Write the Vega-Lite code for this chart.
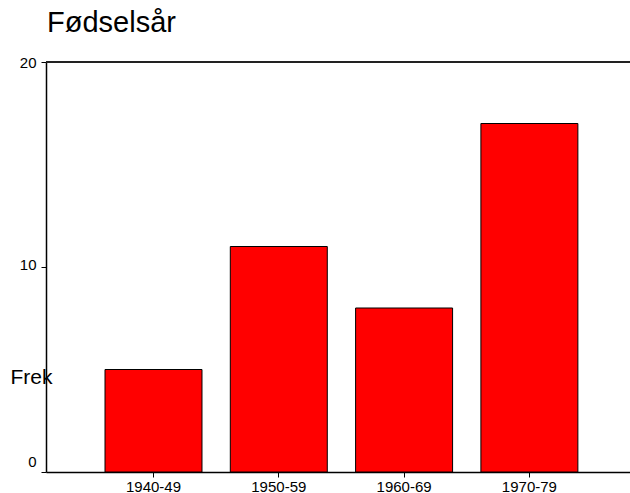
{
  "$schema": "https://vega.github.io/schema/vega-lite/v6.json",
  "autosize": "none",
  "width": 584,
  "height": 410,
  "padding": {"left": 46, "top": 62, "right": 0, "bottom": 21},
  "background": "white",
  "config": {
    "view": {"stroke": null},
    "font": "Liberation Sans"
  },
  "title": {
    "text": "Fødselsår",
    "anchor": "start",
    "frame": "group",
    "fontSize": 29,
    "fontWeight": "normal",
    "color": "black",
    "baseline": "alphabetic",
    "offset": -6,
    "dx": 1
  },
  "data": {
    "values": [
      {"period": "1940-49", "freq": 5},
      {"period": "1950-59", "freq": 11},
      {"period": "1960-69", "freq": 8},
      {"period": "1970-79", "freq": 17}
    ]
  },
  "layer": [
    {
      "mark": {"type": "bar", "fill": "#ff0000", "stroke": "black", "strokeWidth": 1},
      "encoding": {
        "x": {
          "field": "period",
          "type": "nominal",
          "sort": null,
          "scale": {"paddingInner": 0.226, "paddingOuter": 0.4435, "align": 0.531},
          "axis": {
            "title": null,
            "labelAngle": 0,
            "labelFontSize": 15,
            "labelColor": "black",
            "labelPadding": 2,
            "tickSize": 5,
            "tickColor": "black",
            "domainColor": "black",
            "domainWidth": 1.5,
            "tickWidth": 1
          }
        },
        "y": {
          "field": "freq",
          "type": "quantitative",
          "scale": {"domain": [0, 20], "nice": false},
          "axis": {
            "values": [0, 10, 20],
            "grid": false,
            "title": "Frek",
            "titleAngle": 0,
            "titleAlign": "left",
            "titleBaseline": "alphabetic",
            "titleX": -36,
            "titleY": 321,
            "titleFontSize": 21,
            "titleFontWeight": "normal",
            "titleColor": "black",
            "labelFontSize": 15,
            "labelColor": "black",
            "labelPadding": 5,
            "labelBaseline": "middle",
            "labelOffset": {
              "condition": [
                {"test": "datum.value == 0", "value": -11},
                {"test": "datum.value == 10", "value": -3}
              ],
              "value": 0
            },
            "tickSize": 5,
            "tickColor": "black",
            "domainColor": "black",
            "domainWidth": 1.5,
            "tickWidth": 1
          }
        }
      }
    },
    {
      "mark": {"type": "rule", "stroke": "#222222", "strokeWidth": 1.5},
      "encoding": {"y": {"datum": 20}}
    }
  ]
}
